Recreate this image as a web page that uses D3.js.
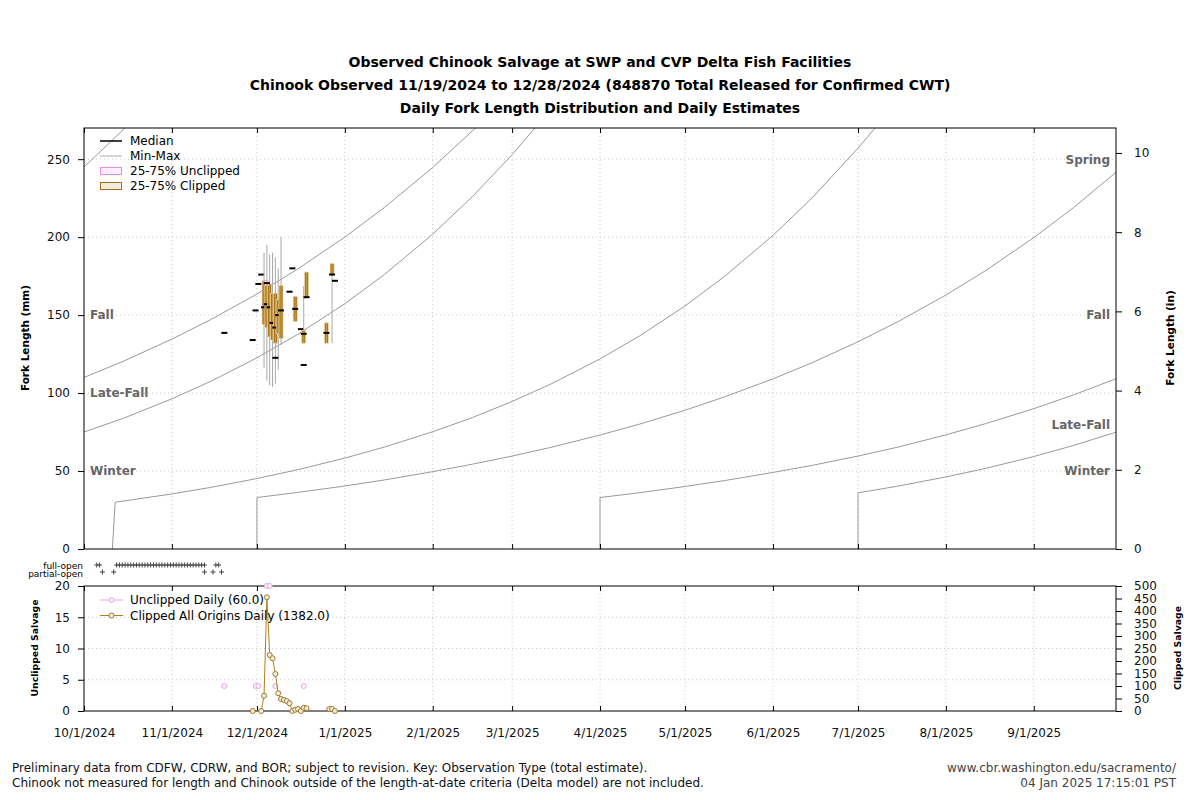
<!DOCTYPE html>
<html><head><meta charset="utf-8">
<script src="https://cdn.jsdelivr.net/npm/d3@7"></script>
<style>body{margin:0;background:#fff} svg text{font-family:'DejaVu Sans',sans-serif}</style>
</head><body>
<svg id="c" width="1200" height="800"></svg>
<script>
// ---------------- DATA ----------------
const titleLines = [
  "Observed Chinook Salvage at SWP and CVP Delta Fish Facilities",
  "Chinook Observed 11/19/2024 to 12/28/2024 (848870 Total Released for Confirmed CWT)",
  "Daily Fork Length Distribution and Daily Estimates"
];
const footLeft = [
  "Preliminary data from CDFW, CDRW, and BOR; subject to revision. Key: Observation Type (total estimate).",
  "Chinook not measured for length and Chinook outside of the length-at-date criteria (Delta model) are not included."
];
const footRight = ["www.cbr.washington.edu/sacramento/", "04 Jan 2025 17:15:01 PST"];

const xStart = "2024-10-01", xEnd = "2025-09-30";
const monthTicks = ["2024-10-01","2024-11-01","2024-12-01","2025-01-01","2025-02-01","2025-03-01",
                    "2025-04-01","2025-05-01","2025-06-01","2025-07-01","2025-08-01","2025-09-01"];
const mmTicks = [0,50,100,150,200,250];
const inTicks = [0,2,4,6,8,10];
const unclippedTicks = [0,5,10,15,20];
const clippedTicks = [0,50,100,150,200,250,300,350,400,450,500];

const raceLeft = [["Fall",150],["Late-Fall",100],["Winter",50]];
const raceRight = [["Spring",250],["Fall",150],["Late-Fall",80],["Winter",50]];

// length-at-date criteria curves (mm)
const critDecPrev = [["2024-10-01",245],["2024-10-08",257],["2024-10-16",271]];
const critDec = [["2024-12-01",0],["2024-12-01",33],["2024-12-15",36.2],["2025-01-01",40.4],["2025-01-15",44.3],
  ["2025-02-01",49.6],["2025-02-15",54.4],["2025-03-01",59.6],["2025-03-15",65.3],["2025-04-01",73.1],
  ["2025-04-15",80.1],["2025-05-01",89.0],["2025-05-15",97.6],["2025-06-01",109.1],["2025-06-15",119.6],
  ["2025-07-01",132.9],["2025-07-15",145.7],["2025-08-01",162.9],["2025-08-15",178.5],["2025-09-01",199.7],
  ["2025-09-15",218.9],["2025-09-30",241.6]];
const critAprPrev = [["2024-10-01",110],["2024-10-15",120.5],["2024-11-01",134.6],["2024-11-15",147.4],
  ["2024-12-01",163.5],["2024-12-15",179.1],["2025-01-01",200.0],["2025-01-15",219.1],["2025-02-01",244.7],
  ["2025-02-17",271.5]];
const critApr = [["2025-04-01",0],["2025-04-01",33],["2025-04-15",36.1],["2025-05-01",40.1],["2025-05-15",43.9],
  ["2025-06-01",49.1],["2025-06-15",53.7],["2025-07-01",59.6],["2025-07-15",65.3],["2025-08-01",73.2],
  ["2025-08-15",80.4],["2025-09-01",90.0],["2025-09-15",98.8],["2025-09-30",109.2]];
const critJulPrev = [["2024-10-01",75],["2024-10-15",83.9],["2024-11-01",96.3],["2024-11-15",107.8],
  ["2024-12-01",122.6],["2024-12-15",137.2],["2025-01-01",157.3],["2025-01-15",176.1],["2025-02-01",201.9],
  ["2025-02-15",226.0],["2025-03-01",252.9],["2025-03-10",272]];
const critJul = [["2025-07-01",0],["2025-07-01",36],["2025-07-15",40.3],["2025-08-01",46.2],["2025-08-15",51.7],
  ["2025-09-01",59.3],["2025-09-15",66.4],["2025-09-30",74.9]];
const critOct = [["2024-10-11",0],["2024-10-12",30],["2024-11-01",35.3],["2024-11-15",39.6],["2024-12-01",45.2],
  ["2024-12-15",50.7],["2025-01-01",58.3],["2025-01-15",65.4],["2025-02-01",75.2],["2025-02-15",84.3],
  ["2025-03-01",94.6],["2025-03-15",106.1],["2025-04-01",121.9],["2025-04-15",136.7],["2025-05-01",155.9],
  ["2025-05-15",174.9],["2025-06-01",201.1],["2025-06-15",225.5],["2025-07-01",257.1],["2025-07-08",272]];
const critCurves = [critDecPrev, critDec, critAprPrev, critApr, critJulPrev, critJul, critOct];

// daily fork length distribution (mm); origin C = clipped, U = unclipped
const boxDate = ["2024-11-19","2024-11-29","2024-11-30","2024-12-01","2024-12-02","2024-12-03","2024-12-04","2024-12-04",
  "2024-12-05","2024-12-06","2024-12-07","2024-12-07","2024-12-08","2024-12-09","2024-12-12","2024-12-13","2024-12-14",
  "2024-12-16","2024-12-17","2024-12-17","2024-12-18","2024-12-25","2024-12-27","2024-12-28"];
const boxOrigin = ["U","C","U","U","C","C","C","U",
  "C","C","C","U","C","C","C","C","C",
  "C","U","C","C","C","C","C"];
const boxMin = [138.6,134,153,170,176,116,108,169, 105,104,106,122.6,115,131,165,180,146, 141,118,132,161,132,132,172];
const boxQ1  = [138.6,134,153,170,176,144,142,169, 136,134,132,122.6,138,135,165,180,146, 141,118,132,161,132,176,172];
const boxMed = [138.6,134,153,170,176,155,157,170.5,155,145,142,122.6,150,153,165,180,154, 141,118,138,161.5,138.6,176,172];
const boxQ3  = [138.6,134,153,170,176,172,170,172, 170,164,164,122.6,160,169,165,180,162, 141,118,140,177.6,145,183,172];
const boxMax = [138.6,134,153,170,176,190,195,172, 189,190,187,122.6,180,200,165,180,162, 141,118,168.6,177.6,145,183,172];

// facility operation flags
const fullOpen = ["2024-10-05","2024-10-06","2024-10-12","2024-10-13","2024-10-14","2024-10-15","2024-10-16","2024-10-17",
  "2024-10-18","2024-10-19","2024-10-20","2024-10-21","2024-10-22","2024-10-23","2024-10-24","2024-10-25","2024-10-26",
  "2024-10-27","2024-10-28","2024-10-29","2024-10-30","2024-10-31","2024-11-01","2024-11-02","2024-11-03","2024-11-04",
  "2024-11-05","2024-11-06","2024-11-07","2024-11-08","2024-11-09","2024-11-10","2024-11-11","2024-11-12",
  "2024-11-16","2024-11-17"];
const partialOpen = ["2024-10-07","2024-10-11","2024-11-12","2024-11-15","2024-11-18"];

// daily salvage estimates
const unclippedDate = ["2024-11-19","2024-11-30","2024-12-01","2024-12-04","2024-12-05","2024-12-07","2024-12-17"];
const unclippedVal  = [4,4,4,20,20,4,4];
const clippedDate = ["2024-11-29","2024-12-02","2024-12-03","2024-12-04","2024-12-05","2024-12-06","2024-12-07",
  "2024-12-08","2024-12-09","2024-12-10","2024-12-11","2024-12-12","2024-12-13","2024-12-14","2024-12-15",
  "2024-12-16","2024-12-17","2024-12-18","2024-12-26","2024-12-27","2024-12-28"];
const clippedVal = [0,0,61,455,224,211,148,71,48,44,40,31,0,5,8,0,13,11,8,8,0];

// ---------------- DRAW ----------------
const parse = d3.timeParse("%Y-%m-%d");
const noon = s => d3.timeHour.offset(parse(s), 12);
const svg = d3.select("#c");
const L = 84, R = 1116, T = 128, B = 549, T2 = 586, B2 = 711;
const FONT = "'DejaVu Sans', sans-serif";
const GRID = "#c8c8c8";

const x = d3.scaleTime().domain([parse(xStart), parse(xEnd)]).range([L, R]);
const y = d3.scaleLinear().domain([0, 270]).range([B, T]);
const yIn = d3.scaleLinear().domain([0, 270 / 25.4]).range([B, T]);
const yU = d3.scaleLinear().domain([0, 20]).range([B2, T2]);
const yC = d3.scaleLinear().domain([0, 500]).range([B2, T2]);
const months = monthTicks.map(parse);

// titles
svg.append("g").selectAll("text").data(titleLines).join("text")
  .attr("x", 600).attr("y", (d, i) => 67 + i * 23).attr("text-anchor", "middle")
  .attr("font-size", 14).attr("font-weight", "bold").attr("fill", "#000").text(d => d);

// grids
const grid = svg.append("g").attr("stroke", GRID).attr("stroke-dasharray", "1,3").attr("stroke-width", 1);
mmTicks.filter(v => v > 0).forEach(v => grid.append("line").attr("x1", L).attr("x2", R).attr("y1", y(v)).attr("y2", y(v)));
months.slice(1).forEach(m => {
  grid.append("line").attr("x1", x(m)).attr("x2", x(m)).attr("y1", T).attr("y2", B);
  grid.append("line").attr("x1", x(m)).attr("x2", x(m)).attr("y1", T2).attr("y2", B2);
});
unclippedTicks.filter(v => v > 0 && v < 20).forEach(v => grid.append("line").attr("x1", L).attr("x2", R).attr("y1", yU(v)).attr("y2", yU(v)));

// clip
svg.append("clipPath").attr("id", "mainclip").append("rect").attr("x", L).attr("y", T).attr("width", R - L).attr("height", B - T);

// criteria curves
const cLine = d3.line().x(d => x(parse(d[0]))).y(d => y(d[1]));
svg.append("g").attr("clip-path", "url(#mainclip)").selectAll("path").data(critCurves).join("path")
  .attr("d", cLine).attr("fill", "none").attr("stroke", "#9a9a9a").attr("stroke-width", 1);

// race labels
const rl = svg.append("g").attr("font-size", 12).attr("font-weight", "bold").attr("fill", "#666");
raceLeft.forEach(d => rl.append("text").attr("x", L + 6).attr("y", y(d[1])).attr("dy", "0.36em").text(d[0]));
raceRight.forEach(d => rl.append("text").attr("x", R - 6).attr("y", y(d[1])).attr("dy", "0.36em").attr("text-anchor", "end").text(d[0]));

// box plots
const boxes = boxDate.map((d, i) => ({ d: noon(d), o: boxOrigin[i], mn: boxMin[i], q1: boxQ1[i], md: boxMed[i], q3: boxQ3[i], mx: boxMax[i] }));
const bg = svg.append("g");
const order = boxes.filter(b => b.o === "C").concat(boxes.filter(b => b.o === "U"));
order.forEach(b => {
  const cx = x(b.d);
  const g = bg.append("g");
  if (b.mx > b.mn) {
    g.append("line").attr("x1", cx).attr("x2", cx).attr("y1", y(b.mx)).attr("y2", y(b.mn))
      .attr("stroke", "#a8a8a8").attr("stroke-width", 1);
  }
  if (b.q3 > b.q1) {
    g.append("rect").attr("x", cx - 2).attr("width", 4).attr("y", y(b.q3)).attr("height", y(b.q1) - y(b.q3))
      .attr("fill", b.o === "C" ? "#ad7616" : "#f8e2f8").attr("stroke", b.o === "C" ? "#efd9aa" : "#e6a0e6").attr("stroke-width", 0.7);
    if (b.mx > b.mn) {
      g.append("line").attr("x1", cx).attr("x2", cx).attr("y1", y(b.q3)).attr("y2", y(b.q1))
        .attr("stroke", "#c9a86a").attr("stroke-width", 0.8);
    }
  }
  g.append("line").attr("x1", cx - 3).attr("x2", cx + 3).attr("y1", y(b.md)).attr("y2", y(b.md))
    .attr("stroke", "#000").attr("stroke-width", 2);
});

// frames
svg.append("rect").attr("x", L).attr("y", T).attr("width", R - L).attr("height", B - T).attr("fill", "none").attr("stroke", "#000");
svg.append("rect").attr("x", L).attr("y", T2).attr("width", R - L).attr("height", B2 - T2).attr("fill", "none").attr("stroke", "#000");

// axes helper
function styleAxis(g) {
  g.select(".domain").remove();
  g.selectAll("text").attr("font-family", FONT).attr("font-size", 12).attr("fill", "#111");
  g.selectAll("line").attr("stroke", "#000");
}
svg.append("g").attr("transform", `translate(${L},0)`).call(d3.axisLeft(y).tickValues(mmTicks).tickSize(6).tickPadding(8)).call(styleAxis);
svg.append("g").attr("transform", `translate(${R},0)`).call(d3.axisRight(yIn).tickValues(inTicks).tickSize(6).tickPadding(12)).call(styleAxis);
svg.append("g").attr("transform", `translate(${L},0)`).call(d3.axisLeft(yU).tickValues(unclippedTicks).tickSize(6).tickPadding(8)).call(styleAxis);
svg.append("g").attr("transform", `translate(${R},0)`).call(d3.axisRight(yC).tickValues(clippedTicks).tickSize(6).tickPadding(12)).call(styleAxis);
svg.append("g").attr("transform", `translate(0,${B})`).call(d3.axisBottom(x).tickValues(months).tickSize(-5).tickFormat("")).call(styleAxis);
svg.append("g").attr("transform", `translate(0,${T})`).call(d3.axisTop(x).tickValues(months).tickSize(-5).tickFormat("")).call(styleAxis);
svg.append("g").attr("transform", `translate(0,${T2})`).call(d3.axisTop(x).tickValues(months).tickSize(-5).tickFormat("")).call(styleAxis);
svg.append("g").attr("transform", `translate(0,${B2})`).call(d3.axisBottom(x).tickValues(months).tickSize(-5).tickPadding(17).tickFormat(d3.timeFormat("%-m/%-d/%Y"))).call(styleAxis);

// axis titles
const at = (tx, ty, s, fs) => svg.append("text").attr("transform", `translate(${tx},${ty}) rotate(-90)`)
  .attr("text-anchor", "middle").attr("font-size", fs).attr("font-weight", "bold").attr("fill", "#000").text(s);
at(29, 338, "Fork Length (mm)", 10.5);
at(1174, 338, "Fork Length (in)", 10.5);
at(38, 648, "Unclipped Salvage", 9.3);
at(1181, 648, "Clipped Salvage", 9.3);

// facility operation rows
const ops = svg.append("g");
ops.append("text").attr("x", 83).attr("y", 569).attr("text-anchor", "end").attr("font-size", 9).text("full-open");
ops.append("text").attr("x", 83).attr("y", 577).attr("text-anchor", "end").attr("font-size", 9).text("partial-open");
const cross = (cx, cy) => `M${cx - 2.5},${cy}h5M${cx},${cy - 2.5}v5`;
ops.append("path").attr("d", fullOpen.map(d => cross(x(noon(d)), 565)).join("")).attr("stroke", "#444").attr("fill", "none");
ops.append("path").attr("d", partialOpen.map(d => cross(x(noon(d)), 572)).join("")).attr("stroke", "#444").attr("fill", "none");

// daily salvage series
function segs(dates, vals, maxGap) {
  const out = []; let cur = [];
  dates.forEach((d, i) => {
    const t = parse(d);
    if (cur.length && d3.timeDay.count(cur[cur.length - 1].t, t) > maxGap) { out.push(cur); cur = []; }
    cur.push({ t, v: vals[i] });
  });
  if (cur.length) out.push(cur);
  return out;
}
const UCOL = "#e4a6e4", CCOL = "#b3801e";
const uLine = d3.line().x(d => x(d3.timeHour.offset(d.t, 12))).y(d => yU(d.v));
const cLn = d3.line().x(d => x(d3.timeHour.offset(d.t, 12))).y(d => yC(d.v));
svg.append("g").selectAll("path").data(segs(unclippedDate, unclippedVal, 1)).join("path")
  .attr("d", uLine).attr("fill", "none").attr("stroke", UCOL).attr("stroke-width", 1);
svg.append("g").selectAll("circle").data(unclippedDate.map((d, i) => ({ t: parse(d), v: unclippedVal[i] }))).join("circle")
  .attr("cx", d => x(d3.timeHour.offset(d.t, 12))).attr("cy", d => yU(d.v)).attr("r", 2.5)
  .attr("fill", "#fdf3fd").attr("stroke", UCOL).attr("stroke-width", 1);
svg.append("g").selectAll("path").data(segs(clippedDate, clippedVal, 3)).join("path")
  .attr("d", cLn).attr("fill", "none").attr("stroke", CCOL).attr("stroke-width", 1);
svg.append("g").selectAll("circle").data(clippedDate.map((d, i) => ({ t: parse(d), v: clippedVal[i] }))).join("circle")
  .attr("cx", d => x(d3.timeHour.offset(d.t, 12))).attr("cy", d => yC(d.v)).attr("r", 2.5)
  .attr("fill", "#f6eedc").attr("stroke", "#a0782a").attr("stroke-width", 1);

// main legend
const lg = svg.append("g").attr("font-size", 12).attr("fill", "#000");
const lgRows = [141, 156, 171, 186];
lg.append("line").attr("x1", 100).attr("x2", 122).attr("y1", lgRows[0]).attr("y2", lgRows[0]).attr("stroke", "#000").attr("stroke-width", 1.5);
lg.append("line").attr("x1", 100).attr("x2", 122).attr("y1", lgRows[1]).attr("y2", lgRows[1]).attr("stroke", "#aaa").attr("stroke-width", 1);
lg.append("rect").attr("x", 100.5).attr("y", lgRows[2] - 3.5).attr("width", 21).attr("height", 7).attr("fill", "#fbeefb").attr("stroke", "#e48ee4");
lg.append("rect").attr("x", 100.5).attr("y", lgRows[3] - 3.5).attr("width", 21).attr("height", 7).attr("fill", "#f3ebdd").attr("stroke", "#a8701c");
["Median", "Min-Max", "25-75% Unclipped", "25-75% Clipped"].forEach((s, i) =>
  lg.append("text").attr("x", 130).attr("y", lgRows[i]).attr("dy", "0.36em").text(s));

// lower legend
const lg2 = svg.append("g").attr("font-size", 12).attr("fill", "#000");
[[600, UCOL, "#fdf3fd", UCOL, "Unclipped Daily (60.0)"], [615.5, CCOL, "#f6eedc", "#a0782a", "Clipped All Origins Daily (1382.0)"]].forEach(r => {
  lg2.append("line").attr("x1", 100).attr("x2", 123).attr("y1", r[0]).attr("y2", r[0]).attr("stroke", r[1]);
  lg2.append("circle").attr("cx", 111.5).attr("cy", r[0]).attr("r", 2.5).attr("fill", r[2]).attr("stroke", r[3]);
  lg2.append("text").attr("x", 130).attr("y", r[0]).attr("dy", "0.36em").text(r[4]);
});

// footer
svg.append("g").attr("font-size", 12).attr("fill", "#111").selectAll("text").data(footLeft).join("text")
  .attr("x", 12).attr("y", (d, i) => 772 + i * 15).text(d => d);
svg.append("g").attr("font-size", 12).attr("fill", "#444").attr("text-anchor", "end").selectAll("text").data(footRight).join("text")
  .attr("x", 1176).attr("y", (d, i) => 772 + i * 15).text(d => d);
</script>
</body></html>
